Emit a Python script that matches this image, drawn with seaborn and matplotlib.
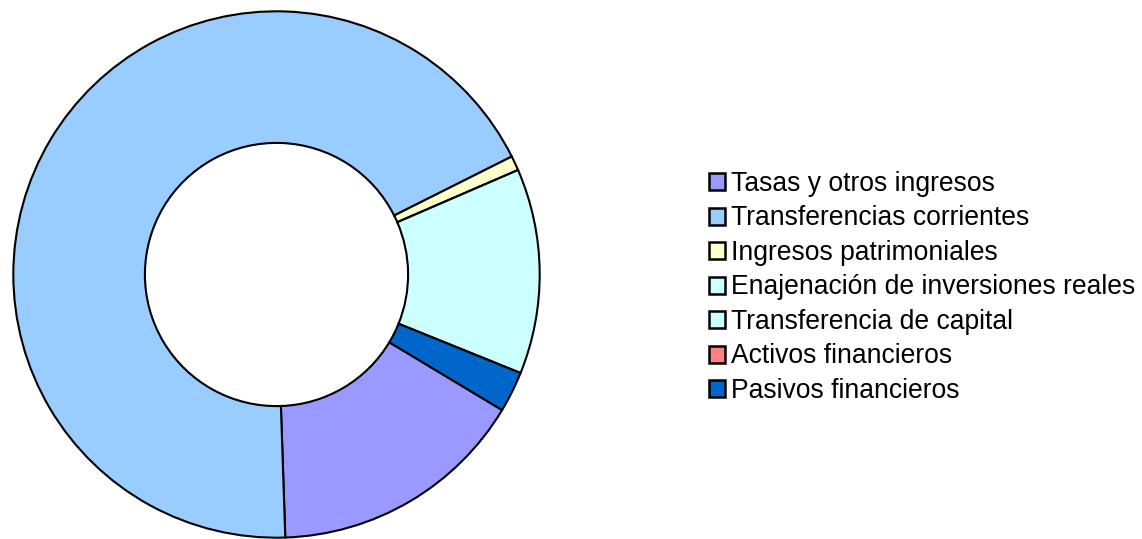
import matplotlib
matplotlib.use("Agg")
import matplotlib.pyplot as plt
from matplotlib.patches import Patch
import seaborn as sns

# donut of income by chapter (shares in %)
categories = ["Tasas y otros ingresos", "Transferencias corrientes", "Ingresos patrimoniales",
              "Enajenación de inversiones reales", "Transferencia de capital",
              "Activos financieros", "Pasivos financieros"]
shares = [15.85, 68.1, 0.9, 0.0, 12.6, 0.0, 2.5]
colors = ["#9999FF", "#99CCFF", "#FFFFCC", "#CCFFFF", "#CCFFFF", "#FF8080", "#0066CC"]

sns.set_style("white")
plt.rcParams["font.family"] = ["Liberation Sans", "DejaVu Sans"]
plt.rcParams["text.color"] = "black"

fig = plt.figure(figsize=(11.42, 5.39), dpi=100)
ax = fig.add_axes([12 / 1142, 0, 529 / 1142, 529 / 539])

ax.pie(shares, colors=colors, startangle=-31.0, counterclock=False, radius=1.0,
       wedgeprops=dict(width=0.5, edgecolor="black", linewidth=1.5))
ax.set_xlim(-1.005, 1.005)
ax.set_ylim(-1.005, 1.005)
ax.set_aspect("equal")
ax.axis("off")

handles = [Patch(facecolor=c, edgecolor="black", linewidth=1.8) for c in colors]
leg = fig.legend(handles, categories, loc="upper left", bbox_to_anchor=(709 / 1142, 1 - 171 / 539),
                 frameon=False, fontsize=19.1, handlelength=0.62, handleheight=0.62,
                 handletextpad=0.22, labelspacing=0.32, borderpad=0, borderaxespad=0)
for t in leg.get_texts():
    t.set_color("black")

fig.savefig("out.png", dpi=100)
